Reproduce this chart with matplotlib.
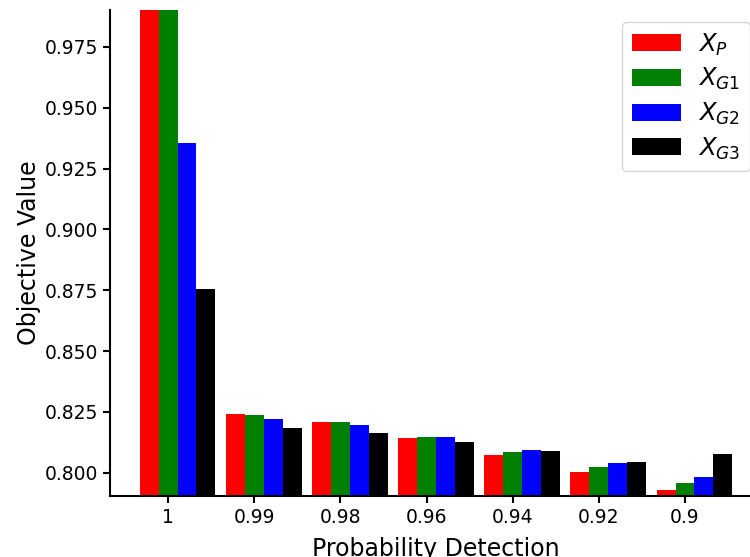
import numpy as np
from matplotlib import pyplot as plt

categorias = ['1', '0.99', '0.98', '0.96', '0.94', '0.92', '0.9']
x_p = [1.0, 0.8242, 0.8209, 0.8144, 0.8074, 0.8004, 0.7930]
x_g1 = [1.0, 0.8238, 0.8209, 0.8148, 0.8086, 0.8025, 0.7959]
x_g2 = [0.9356, 0.8222, 0.8197, 0.8148, 0.8094, 0.8041, 0.7984]
x_g3 = [0.8757, 0.8185, 0.8164, 0.8127, 0.8090, 0.8045, 0.8078]
nombres = [r'$X_P$', r'$X_{G1}$', r'$X_{G2}$', r'$X_{G3}$']
colores = ['red', 'green', 'blue', 'black']

fig = plt.figure(figsize=(7.5, 5.57), dpi=100)
# los ejes se salen un poco por la derecha, como en la figura original
ax = fig.add_axes([110 / 750, 61 / 557, 652 / 750, 486.5 / 557])

x = np.arange(len(categorias))
w = 0.22
series = [x_p, x_g1, x_g2, x_g3]
for k, (serie, nombre, color) in enumerate(zip(series, nombres, colores)):
    ax.bar(x + (k - 1) * w, serie, w, color=color, label=nombre)

ax.set_ylim(0.7904, 0.9904)
ax.set_xlim(-0.674, 6.894)
ax.set_yticks([0.800, 0.825, 0.850, 0.875, 0.900, 0.925, 0.950, 0.975])
ax.set_xticks(x)
ax.set_xticklabels(categorias)
ax.tick_params(labelsize=13.5, width=1.5, length=5)

for lado in ['top', 'right']:
    ax.spines[lado].set_visible(False)
for lado in ['left', 'bottom']:
    ax.spines[lado].set_linewidth(1.5)

ax.set_xlabel('Probability Detection', fontsize=17, labelpad=7)
ax.set_ylabel('Objective Value', fontsize=17, labelpad=3)
ax.legend(loc='upper right', fontsize=17.5, labelspacing=0.35, handletextpad=0.7)

fig.savefig('out.png')
